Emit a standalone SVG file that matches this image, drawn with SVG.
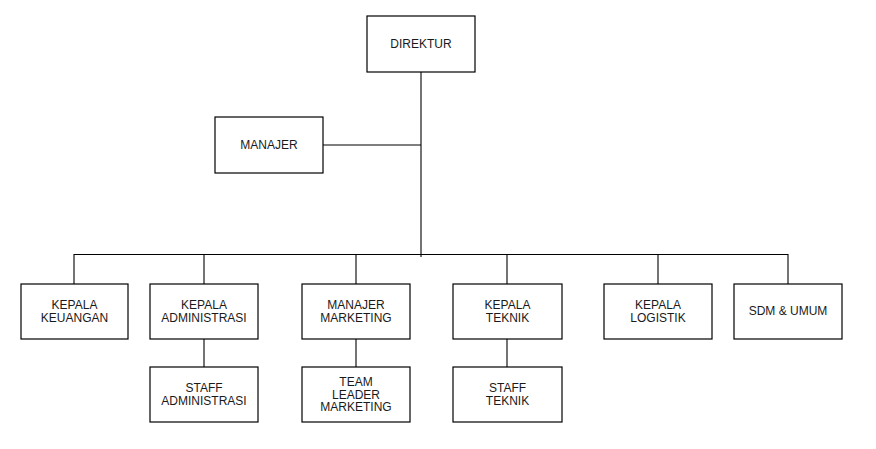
<svg xmlns="http://www.w3.org/2000/svg" width="876" height="449" viewBox="0 0 876 449">
<style>
rect{fill:#fff;stroke:#000;stroke-width:1.2}
text{font-family:"Liberation Sans",Arial,sans-serif;font-size:12px;fill:#1a1a1a;text-anchor:middle}
.c line{stroke:#000;stroke-width:1.1}
</style>
<rect x="0" y="0" width="876" height="449" style="stroke:none"/>
<g class="c" id="connectors">
<line x1="421" y1="72" x2="421" y2="257"/>
<line x1="323" y1="145" x2="421" y2="145"/>
<line x1="74" y1="254.5" x2="788" y2="254.5"/>
<line x1="74" y1="254" x2="74" y2="284"/>
<line x1="204" y1="254" x2="204" y2="284"/>
<line x1="356" y1="254" x2="356" y2="284"/>
<line x1="507" y1="254" x2="507" y2="284"/>
<line x1="658" y1="254" x2="658" y2="284"/>
<line x1="788" y1="254" x2="788" y2="284"/>
<line x1="204" y1="339" x2="204" y2="367"/>
<line x1="356" y1="339" x2="356" y2="367"/>
<line x1="507" y1="339" x2="507" y2="367"/>
</g>
<g id="direktur"><rect x="367" y="16" width="108" height="56"/><text x="421" y="48">DIREKTUR</text></g>
<g id="manajer"><rect x="215" y="117" width="108" height="56"/><text x="269" y="149">MANAJER</text></g>
<g id="kepala-keuangan"><rect x="21" y="284" width="107" height="55"/><text x="74.5" y="309">KEPALA</text><text x="74.5" y="322">KEUANGAN</text></g>
<g id="kepala-administrasi"><rect x="150" y="284" width="108" height="55"/><text x="204" y="309">KEPALA</text><text x="204" y="322">ADMINISTRASI</text></g>
<g id="manajer-marketing"><rect x="302" y="284" width="108" height="55"/><text x="356" y="309">MANAJER</text><text x="356" y="322">MARKETING</text></g>
<g id="kepala-teknik"><rect x="453" y="284" width="109" height="55"/><text x="507.5" y="309">KEPALA</text><text x="507.5" y="322">TEKNIK</text></g>
<g id="kepala-logistik"><rect x="604" y="284" width="108" height="55"/><text x="658" y="309">KEPALA</text><text x="658" y="322">LOGISTIK</text></g>
<g id="sdm-umum"><rect x="734" y="284" width="108" height="55"/><text x="788" y="315">SDM &amp; UMUM</text></g>
<g id="staff-administrasi"><rect x="150" y="367" width="108" height="55"/><text x="204" y="392">STAFF</text><text x="204" y="405">ADMINISTRASI</text></g>
<g id="team-leader-marketing"><rect x="302" y="367" width="108" height="55"/><text x="356" y="386">TEAM</text><text x="356" y="398.5">LEADER</text><text x="356" y="411">MARKETING</text></g>
<g id="staff-teknik"><rect x="453" y="367" width="109" height="55"/><text x="507.5" y="392">STAFF</text><text x="507.5" y="405">TEKNIK</text></g>
</svg>
